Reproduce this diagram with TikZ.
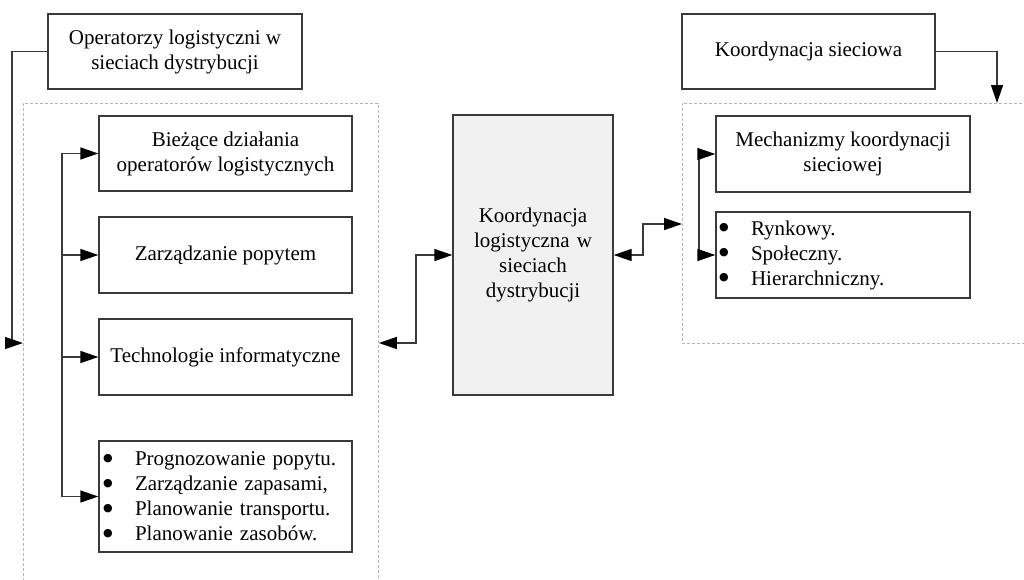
\documentclass[tikz,border=0pt]{standalone}
\usepackage{fontspec}
\setmainfont{Liberation Serif}
\newfontfamily\symfont{DejaVu Sans}
\usetikzlibrary{arrows.meta}
\definecolor{edge}{HTML}{3A3A3A}
\definecolor{frame}{HTML}{B4B4B4}
\definecolor{core}{HTML}{F1F1F1}
\tikzset{
  box/.style={draw=edge, line width=1.3pt, fill=white, align=center,
    inner sep=3pt, font=\fontsize{21}{25}\selectfont},
  group/.style={draw=frame, line width=0.8pt, dash pattern=on 3pt off 2pt},
  link/.style={draw=edge, line width=1.3pt},
  fwd/.style={-{Triangle[length=18pt,width=12pt,color=black]}},
  both/.style={{Triangle[length=18pt,width=12pt,color=black]}-{Triangle[length=18pt,width=12pt,color=black]}},
}
\newcommand{\dotmark}{\makebox[32pt][l]{\raisebox{4.5pt}{\symfont\fontsize{11}{25}\selectfont ●}}}
\newcommand{\itm}[1]{\dotmark #1\\}
\begin{document}
\begin{tikzpicture}[x=1pt, y=-1pt]
\useasboundingbox (0,0) rectangle (1024,579);
\clip (0,0) rectangle (1024,579);

% dashed groups
\node[group, minimum width=355pt, minimum height=520pt, anchor=north west] (lgroup) at (23,103) {};
\node[group, minimum width=360pt, minimum height=240pt, anchor=north west] (rgroup) at (682,103) {};

% headers
\node[box, minimum width=254pt, minimum height=75pt] (ops) at (175,51.5)
  {Operatorzy logistyczni w\\sieciach dystrybucji};
\node[box, minimum width=253pt, minimum height=75pt] (net) at (808.5,51.5)
  {Koordynacja sieciowa};

% left column
\node[box, minimum width=253pt, minimum height=75pt] (cur) at (225.5,153.5)
  {Bieżące działania\\operatorów logistycznych};
\node[box, minimum width=253pt, minimum height=76pt] (dem) at (225.5,255)
  {Zarządzanie popytem};
\node[box, minimum width=253pt, minimum height=76pt] (it) at (225.5,357)
  {Technologie informatyczne};
\node[box, minimum width=253pt, minimum height=111pt, text width=245pt, align=left] (tasks) at (225.5,496.5)
  {\itm{Prognozowanie popytu.}\itm{Zarządzanie zapasami,}\itm{Planowanie transportu.}\itm{Planowanie zasobów.}};

% centre
\node[box, fill=core, minimum width=160pt, minimum height=280pt, text width=150pt] (coord) at (533,255)
  {Koordynacja\\logistyczna w\\sieciach\\dystrybucji};

% right column
\node[box, minimum width=254pt, minimum height=76pt] (mech) at (843,154)
  {Mechanizmy koordynacji\\sieciowej};
\node[box, minimum width=254pt, minimum height=86pt, text width=248pt, align=left] (kinds) at (843,255)
  {\itm{Rynkowy.}\itm{Społeczny.}\itm{Hierarchniczny.}};

% bus points
\coordinate (lbus) at (62,0);
\coordinate (obus) at (12,0);
\coordinate (rbus) at (699,0);
\coordinate (ljog) at (416,343);
\coordinate (rjog) at (643,224);
\coordinate (ndrop) at (997,0);

% connectors
\draw[link, fwd] (ops.west) -| (obus |- ljog) -- (lgroup.west |- ljog);
\draw[link, both] (cur.west) -| (lbus |- tasks.west) -- (tasks.west);
\draw[link, fwd] (lbus |- dem.west) -- (dem.west);
\draw[link, fwd] (lbus |- it.west) -- (it.west);
\draw[link, both] (coord.west) -| (ljog) -- (lgroup.east |- ljog);
\draw[link, both] (coord.east) -| (rjog) -- (rgroup.west |- rjog);
\draw[link, fwd] (net.east) -| (ndrop |- rgroup.north);
\draw[link, both] (mech.west) -| (rbus |- kinds.west) -- (kinds.west);
\end{tikzpicture}
\end{document}
